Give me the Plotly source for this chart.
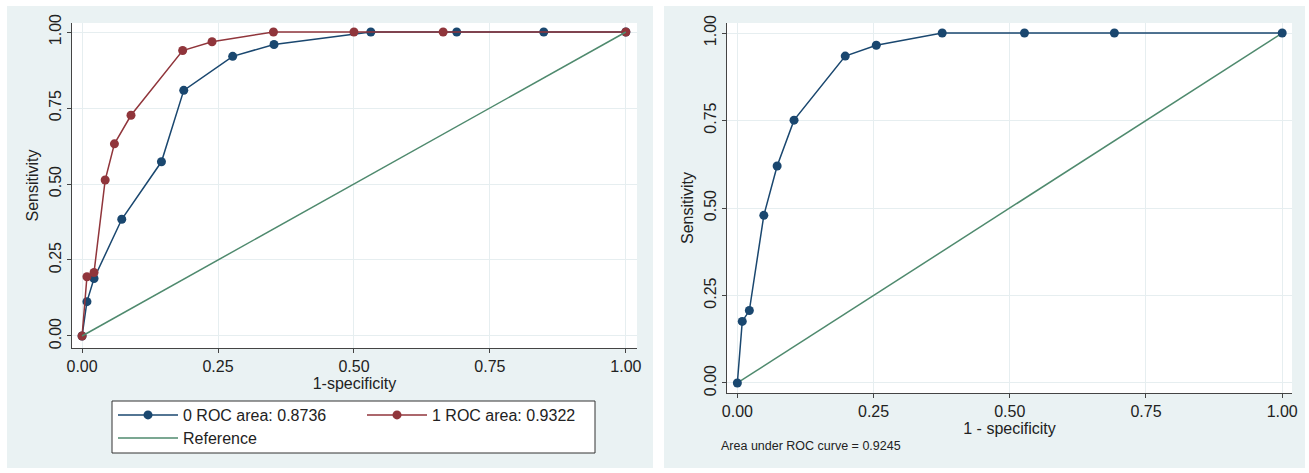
import plotly.graph_objects as go

# ---- data ----
fpr_g0 = [0, 0.009, 0.022, 0.073, 0.146, 0.187, 0.277, 0.353, 0.531, 0.689, 0.849, 1.0]
sens_g0 = [0, 0.113, 0.189, 0.384, 0.573, 0.808, 0.920, 0.959, 1.0, 1.0, 1.0, 1.0]
fpr_g1 = [0, 0.009, 0.022, 0.0425, 0.0595, 0.090, 0.185, 0.239, 0.352, 0.5, 0.664, 1.0]
sens_g1 = [0, 0.195, 0.209, 0.513, 0.632, 0.726, 0.939, 0.968, 1.0, 1.0, 1.0, 1.0]
fpr_all = [0, 0.009, 0.022, 0.0486, 0.073, 0.104, 0.198, 0.255, 0.376, 0.527, 0.692, 1.0]
sens_all = [0, 0.176, 0.207, 0.479, 0.620, 0.751, 0.934, 0.965, 1.0, 1.0, 1.0, 1.0]
ref_x = [0, 1]
ref_y = [0, 1]
tick_vals = [0, 0.25, 0.5, 0.75, 1.0]
tick_text = ["0.00", "0.25", "0.50", "0.75", "1.00"]
name_g0 = "0 ROC area: 0.8736"
name_g1 = "1 ROC area: 0.9322"
name_ref = "Reference"
auc_note = "Area under ROC curve = 0.9245"

W, H = 1309, 473
NAVY = "#1a476f"
MAROON = "#90353b"
GREEN = "#4f8a6e"
PANEL = "#eaf2f3"
GRID = "#e6eef0"
AXIS = "#444444"
FONT = "Liberation Sans, Arial, sans-serif"


def px(x):
    return x / W


def py(y):
    return 1 - y / H


fig = go.Figure()

# left panel traces
fig.add_trace(go.Scatter(x=fpr_g0, y=sens_g0, mode="lines+markers", name=name_g0,
                         line=dict(color=NAVY, width=1.5), marker=dict(color=NAVY, size=9),
                         xaxis="x", yaxis="y", legend="legend"))
fig.add_trace(go.Scatter(x=fpr_g1, y=sens_g1, mode="lines+markers", name=name_g1,
                         line=dict(color=MAROON, width=1.5), marker=dict(color=MAROON, size=9),
                         xaxis="x", yaxis="y", legend="legend"))
fig.add_trace(go.Scatter(x=ref_x, y=ref_y, mode="lines", name=name_ref,
                         line=dict(color=GREEN, width=1.5),
                         xaxis="x", yaxis="y", legend="legend2"))

# right panel traces
fig.add_trace(go.Scatter(x=ref_x, y=ref_y, mode="lines", showlegend=False,
                         line=dict(color=GREEN, width=1.5), xaxis="x2", yaxis="y2"))
fig.add_trace(go.Scatter(x=fpr_all, y=sens_all, mode="lines+markers", showlegend=False,
                         line=dict(color=NAVY, width=1.5), marker=dict(color=NAVY, size=9),
                         xaxis="x2", yaxis="y2"))

axis_common = dict(
    showline=True, linecolor=AXIS, linewidth=1,
    ticks="outside", ticklen=4, tickcolor=AXIS, tickwidth=1,
    showgrid=True, gridcolor=GRID, gridwidth=1, zeroline=False,
    tickvals=tick_vals, ticktext=tick_text,
    tickfont=dict(family=FONT, size=16, color="#222222"),
    title_font=dict(family=FONT, size=16, color="#222222"),
    mirror=False, automargin=False,
)

fig.update_layout(
    template="none",
    width=W, height=H, autosize=False,
    margin=dict(l=0, r=0, t=0, b=0, pad=0),
    paper_bgcolor="white", plot_bgcolor="white",
    font=dict(family=FONT, color="#222222"),
    xaxis=dict(domain=[px(72), px(637)], range=[-0.0185, 1.0205], anchor="y",
               title=dict(text="1-specificity", standoff=3), **axis_common),
    yaxis=dict(domain=[py(348), py(23)], range=[-0.0395, 1.0296], anchor="x",
               tickangle=-90, title=dict(text="Sensitivity", standoff=3), **axis_common),
    xaxis2=dict(domain=[px(727), px(1292)], range=[-0.019, 1.018], anchor="y2",
                title=dict(text="1 - specificity", standoff=3), **axis_common),
    yaxis2=dict(domain=[py(393), py(23)], range=[-0.0286, 1.0286], anchor="x2",
                tickangle=-90, title=dict(text="Sensitivity", standoff=3), **axis_common),
    legend=dict(orientation="h", x=px(113), y=py(398), xanchor="left", yanchor="top",
                bgcolor="rgba(0,0,0,0)", borderwidth=0, entrywidth=174, entrywidthmode="pixels",
                font=dict(family=FONT, size=16, color="#222222"), itemwidth=60),
    legend2=dict(orientation="h", x=px(113), y=py(421), xanchor="left", yanchor="top",
                 bgcolor="rgba(0,0,0,0)", borderwidth=0,
                 font=dict(family=FONT, size=16, color="#222222"), itemwidth=60),
    shapes=[
        dict(type="rect", xref="paper", yref="paper", x0=px(7), x1=px(653), y0=py(468), y1=py(6),
             fillcolor=PANEL, line=dict(width=0), layer="below"),
        dict(type="rect", xref="paper", yref="paper", x0=px(664), x1=px(1305), y0=py(468), y1=py(6),
             fillcolor=PANEL, line=dict(width=0), layer="below"),
        dict(type="rect", xref="x domain", yref="y domain", x0=0, x1=1, y0=0, y1=1,
             fillcolor="white", line=dict(width=0), layer="below"),
        dict(type="rect", xref="x2 domain", yref="y2 domain", x0=0, x1=1, y0=0, y1=1,
             fillcolor="white", line=dict(width=0), layer="below"),
        dict(type="rect", xref="paper", yref="paper", x0=px(112), x1=px(595), y0=py(453), y1=py(401),
             fillcolor="white", line=dict(color="#333333", width=1), layer="below"),
    ],
    annotations=[
        dict(text=auc_note, xref="paper", yref="paper", x=px(719), y=py(446),
             xanchor="left", yanchor="middle", showarrow=False,
             font=dict(family=FONT, size=12.5, color="#222222")),
    ],
)

fig.write_html("out.html", config={"displayModeBar": False, "responsive": False},
               post_script="document.body.style.margin='0px';document.body.style.overflow='hidden';")
